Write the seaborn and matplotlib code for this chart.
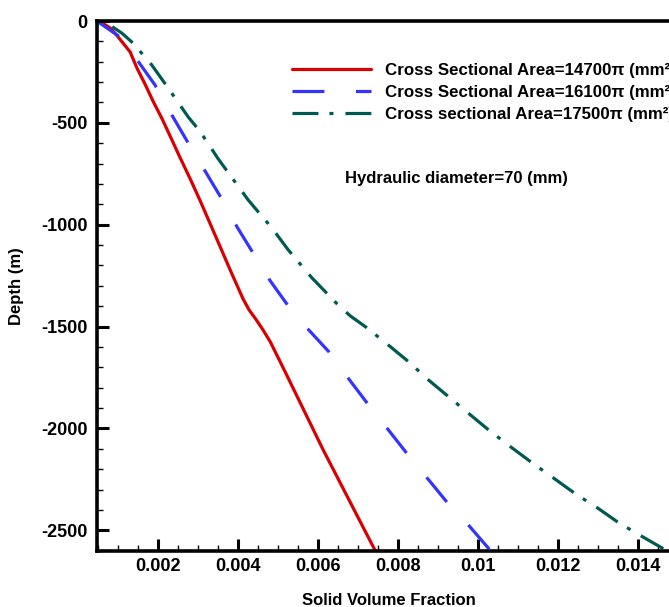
import matplotlib
matplotlib.use("Agg")
import matplotlib.pyplot as plt
from matplotlib.ticker import MultipleLocator
import seaborn as sns
import pandas as pd

# ---- data ----
labels = [
    "Cross Sectional Area=14700\u03c0 (mm\u00b2)",
    "Cross Sectional Area=16100\u03c0 (mm\u00b2)",
    "Cross sectional Area=17500\u03c0 (mm\u00b2)",
]

red_x = [0.00048, 0.00063, 0.00081, 0.00098, 0.00113, 0.00131, 0.00148, 0.00168,
         0.00188, 0.00211, 0.00233, 0.00256, 0.00281, 0.00306, 0.00331, 0.00356,
         0.00383, 0.00413, 0.00428, 0.00446, 0.00463, 0.00481, 0.00506, 0.00523,
         0.00613, 0.00743]
red_y = [0, -12, -34, -71, -108, -152, -231, -309,
         -393, -481, -574, -672, -775, -883, -996, -1109,
         -1232, -1364, -1418, -1467, -1517, -1575, -1674, -1742,
         -2105, -2600]

blue_x = [0.00048, 0.00110, 0.00193, 0.00235, 0.00276, 0.00318, 0.00360, 0.00398,
          0.00438, 0.00481, 0.00527, 0.00573, 0.00627, 0.00677, 0.00723, 0.00773,
          0.00823, 0.00873, 0.00923, 0.00977, 0.01031]
blue_y = [0, -85, -314, -461, -599, -736, -874, -1011,
          -1139, -1276, -1402, -1508, -1623, -1757, -1876, -2000,
          -2125, -2244, -2364, -2477, -2600]

green_x = [0.00048, 0.00073, 0.00110, 0.00138, 0.00185, 0.00226, 0.00276, 0.00306,
           0.00351, 0.00426, 0.00485, 0.00526, 0.00585, 0.00648, 0.00681, 0.00723,
           0.00781, 0.00826, 0.00876, 0.00926, 0.00978, 0.01026, 0.01085, 0.01135,
           0.01188, 0.01243, 0.01298, 0.01351, 0.01410, 0.01463, 0.01478]
green_y = [0, -11, -59, -108, -216, -329, -471, -543,
           -677, -879, -1016, -1124, -1261, -1389, -1448, -1507,
           -1599, -1672, -1762, -1844, -1929, -2007, -2096, -2169,
           -2243, -2321, -2390, -2463, -2531, -2591, -2600]

series = [(red_x, red_y), (blue_x, blue_y), (green_x, green_y)]
colors = ["#D80000", "#3434FF", "#005A52"]
dash_patterns = [None, (23, 22.7), (18.7, 7.9, 2.9, 8.6)]
dash_offsets = [0, 3.7, 26.1]

hydraulic_text = "Hydraulic diameter=70 (mm)"

# ---- style ----
sns.set_style("white")
plt.rcParams["font.family"] = ["Liberation Sans", "DejaVu Sans"]
plt.rcParams["font.weight"] = "bold"
plt.rcParams["lines.scale_dashes"] = False
plt.rcParams["axes.unicode_minus"] = False
plt.rcParams["text.color"] = "black"
plt.rcParams["axes.labelcolor"] = "black"
plt.rcParams["xtick.color"] = "black"
plt.rcParams["ytick.color"] = "black"

W, H = 669, 607
fig = plt.figure(figsize=(W / 100, H / 100), dpi=100)
left_px, right_px, top_px, bot_px = 97, 681.7, 21, 550.7
ax = fig.add_axes([left_px / W, 1 - bot_px / H,
                   (right_px - left_px) / W, (bot_px - top_px) / H])

for (xs, ys), lab, c, pat, off in zip(series, labels, colors,
                                      dash_patterns, dash_offsets):
    ls = "-" if pat is None else (off, pat)
    df = pd.DataFrame({"fraction": xs, "depth": ys})
    sns.lineplot(data=df, x="fraction", y="depth", ax=ax, sort=False,
                 estimator=None, color=c, linestyle=ls, linewidth=2.3,
                 label=lab)

ax.set_xlim(0.0004825, 0.0150825)
ax.set_ylim(-2600, 0)
ax.xaxis.set_minor_locator(MultipleLocator(0.0005))
ax.yaxis.set_major_locator(MultipleLocator(500))
ax.yaxis.set_minor_locator(MultipleLocator(100))
ax.set_xticks([0.002, 0.004, 0.006, 0.008, 0.010, 0.012, 0.014])
ax.set_xticklabels(["0.002", "0.004", "0.006", "0.008", "0.01", "0.012", "0.014"])

ax.tick_params(which="both", bottom=True, left=True, top=False, right=False)
ax.tick_params(which="major", direction="in", length=8.6, width=2.2,
               labelsize=13, pad=5, color="black", labelcolor="black")
ax.tick_params(which="minor", direction="in", length=4.3, width=1.0,
               color="black")
ax.tick_params(axis="y", which="major", pad=7)
for lbl in ax.get_xticklabels() + ax.get_yticklabels():
    lbl.set_fontweight("bold")

for side in ["left", "bottom", "top", "right"]:
    ax.spines[side].set_visible(True)
    ax.spines[side].set_linewidth(2.6)
    ax.spines[side].set_color("black")

ax.set_xlabel("Solid Volume Fraction", fontsize=12, fontweight="bold",
              labelpad=13, color="black")
ax.set_ylabel("Depth (m)", fontsize=12, fontweight="bold", labelpad=12,
              color="black")

ax.text(0.00668, -771, hydraulic_text, fontsize=12, fontweight="bold",
        ha="left", va="center", color="black")

leg = ax.legend(loc="upper left", bbox_to_anchor=(291.7 / W, 1 - 62.5 / H),
                bbox_transform=fig.transFigure, frameon=False, fontsize=12.2,
                handlelength=4.7, handletextpad=0.82, labelspacing=0.42,
                borderpad=0, borderaxespad=0)
for t in leg.get_texts():
    t.set_fontweight("bold")
    t.set_color("black")
for hl, pat in zip(leg.get_lines(), dash_patterns):
    hl.set_linestyle("-" if pat is None else (0, pat))

fig.savefig("out.png", dpi=100)
